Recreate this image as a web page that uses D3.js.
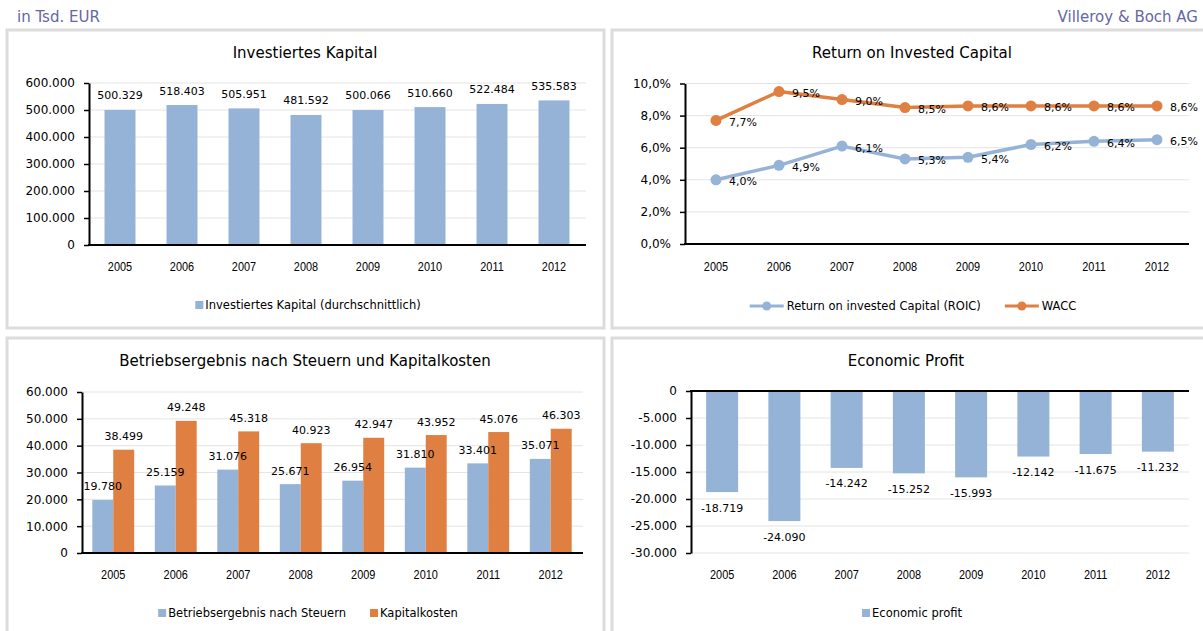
<!DOCTYPE html>
<html>
<head>
<meta charset="utf-8">
<script src="https://cdn.jsdelivr.net/npm/d3@7"></script>
<style>
  body { margin: 0; background: #fff; }
  svg { display: block; }
</style>
</head>
<body>
<svg id="chart" width="1203" height="631"></svg>
<script>
/* global d3 */
'use strict';

// --- data ---
var years = ['2005', '2006', '2007', '2008', '2009', '2010', '2011', '2012'];
var investedCapital = [500329, 518403, 505951, 481592, 500066, 510660, 522484, 535583];
var roic = [4.0, 4.9, 6.1, 5.3, 5.4, 6.2, 6.4, 6.5];
var wacc = [7.7, 9.5, 9.0, 8.5, 8.6, 8.6, 8.6, 8.6];
var nopat = [19780, 25159, 31076, 25671, 26954, 31810, 33401, 35071];
var capitalCost = [38499, 49248, 45318, 40923, 42947, 43952, 45076, 46303];
var economicProfit = [-18719, -24090, -14242, -15252, -15993, -12142, -11675, -11232];

var capitalTicks = [0, 100000, 200000, 300000, 400000, 500000, 600000];
var pctTicks = [0, 2, 4, 6, 8, 10];
var resultTicks = [0, 10000, 20000, 30000, 40000, 50000, 60000];
var profitTicks = [-30000, -25000, -20000, -15000, -10000, -5000, 0];

var blue = '#95b3d7';
var orange = '#df7f41';
var FONT = '"DejaVu Sans", Verdana, sans-serif';
var NARROW = '"Liberation Sans", Arial, sans-serif';

var de = d3.formatLocale({decimal: ',', thousands: '.', grouping: [3], currency: ['', ' €'], minus: '-'});
var fmtNum = de.format(',d');
var fmtPct = function(v) { return de.format('.1f')(v) + '%'; };

var svg = d3.select('#chart');

// header
svg.append('text').attr('x', 17).attr('y', 22)
    .attr('font-family', FONT).attr('font-size', 15).attr('fill', '#6767a3')
    .text('in Tsd. EUR');
svg.append('text').attr('x', 1198).attr('y', 22).attr('text-anchor', 'end')
    .attr('font-family', FONT).attr('font-size', 15).attr('fill', '#6767a3')
    .text('Villeroy & Boch AG');

function panel(x, y, w, h) {
    svg.append('rect')
        .attr('x', x).attr('y', y).attr('width', w).attr('height', h)
        .attr('fill', '#fff').attr('stroke', '#dcdcdc').attr('stroke-width', 3);
}

function title(text, cx, cy) {
    svg.append('text').attr('x', cx).attr('y', cy)
        .attr('text-anchor', 'middle').attr('dominant-baseline', 'central')
        .attr('font-family', FONT).attr('font-size', 15).attr('fill', '#000')
        .text(text);
}

function yAxis(y, x0, x1, ticks, fmt) {
    // gridlines
    svg.append('g').selectAll('line').data(ticks).join('line')
        .attr('x1', x0).attr('x2', x1)
        .attr('y1', function(d) { return y(d); })
        .attr('y2', function(d) { return y(d); })
        .attr('stroke', '#e4e4e4').attr('stroke-width', 1);

    var g = svg.append('g').attr('transform', 'translate(' + x0 + ',0)')
        .call(d3.axisLeft(y).tickValues(ticks).tickFormat(fmt)
            .tickSize(5).tickSizeOuter(0).tickPadding(9));
    g.attr('font-family', FONT).attr('font-size', 12);
    g.select('.domain').attr('stroke', '#000').attr('stroke-width', 2);
    g.selectAll('.tick line').attr('stroke', '#000').attr('stroke-width', 1.5);
    g.selectAll('.tick text').attr('fill', '#000');
}

function xLine(x0, x1, y) {
    svg.append('line').attr('x1', x0).attr('x2', x1).attr('y1', y).attr('y2', y)
        .attr('stroke', '#000').attr('stroke-width', 2);
}

// narrow look of the year labels: squeeze a regular sans horizontally
function yearLabels(xc, y) {
    svg.append('g').selectAll('text').data(years).join('text')
        .attr('transform', function(d) { return 'translate(' + xc(d) + ',' + y + ') scale(0.84,1)'; })
        .attr('text-anchor', 'middle').attr('dominant-baseline', 'central')
        .attr('font-family', NARROW).attr('font-size', 13).attr('fill', '#000')
        .text(function(d) { return d; });
}

function dataLabels(items, fx, fy, text, anchor) {
    svg.append('g').selectAll('text').data(items).join('text')
        .attr('x', fx).attr('y', fy)
        .attr('text-anchor', anchor || 'middle').attr('dominant-baseline', 'central')
        .attr('font-family', FONT).attr('font-size', 11).attr('fill', '#000')
        .text(text);
}

function legend(items, cx, cy) {
    var g = svg.append('g');
    var x = 0;
    items.forEach(function(it, i) {
        if (i > 0) x += 24;
        if (it.type === 'line') {
            g.append('line').attr('x1', x).attr('x2', x + 34).attr('y1', cy).attr('y2', cy)
                .attr('stroke', it.color).attr('stroke-width', 3);
            g.append('circle').attr('cx', x + 17).attr('cy', cy).attr('r', 4.5).attr('fill', it.color);
            x += 37;
        } else {
            g.append('rect').attr('x', x).attr('y', cy - 4).attr('width', 8).attr('height', 8)
                .attr('fill', it.color);
            x += 10;
        }
        var t = g.append('text').attr('x', x).attr('y', cy)
            .attr('dominant-baseline', 'central')
            .attr('font-family', FONT).attr('font-size', 11.5).attr('fill', '#000')
            .text(it.label);
        x += t.node().getComputedTextLength();
    });
    g.attr('transform', 'translate(' + (cx - x / 2) + ',0)');
}

panel(7, 30, 597, 298);
panel(612, 30, 600, 298);
panel(7, 338, 597, 310);
panel(612, 338, 600, 310);

// --- Investiertes Kapital ---
(function() {
    var x = d3.scaleBand().domain(years).range([89, 585]).paddingInner(0.5).paddingOuter(0.25);
    var y = d3.scaleLinear().domain([0, 600000]).range([245, 83]);
    title('Investiertes Kapital', 305, 53);
    yAxis(y, 89, 586, capitalTicks, fmtNum);
    svg.append('g').selectAll('rect').data(investedCapital).join('rect')
        .attr('x', function(d, i) { return x(years[i]); })
        .attr('width', x.bandwidth())
        .attr('y', function(d) { return y(d); })
        .attr('height', function(d) { return y(0) - y(d); })
        .attr('fill', blue);
    xLine(88, 586, 245);
    dataLabels(investedCapital,
        function(d, i) { return x(years[i]) + x.bandwidth() / 2; },
        function(d) { return y(d) - 14; }, fmtNum);
    yearLabels(function(d) { return x(d) + x.bandwidth() / 2; }, 267);
    legend([{type: 'rect', color: blue, label: 'Investiertes Kapital (durchschnittlich)'}], 308, 305);
})();

// --- Return on Invested Capital ---
(function() {
    var x = d3.scalePoint().domain(years).range([716, 1157]);
    var y = d3.scaleLinear().domain([0, 10]).range([244, 83.5]);
    title('Return on Invested Capital', 912, 53);
    yAxis(y, 685, 1189, pctTicks, fmtPct);
    xLine(684, 1189, 244);
    var line = d3.line()
        .x(function(d, i) { return x(years[i]); })
        .y(function(d) { return y(d); });
    [[roic, blue], [wacc, orange]].forEach(function(s) {
        svg.append('path').datum(s[0]).attr('d', line)
            .attr('fill', 'none').attr('stroke', s[1]).attr('stroke-width', 3.5)
            .attr('stroke-linejoin', 'round');
        svg.append('g').selectAll('circle').data(s[0]).join('circle')
            .attr('cx', function(d, i) { return x(years[i]); })
            .attr('cy', function(d) { return y(d); })
            .attr('r', 5.5).attr('fill', s[1]);
        dataLabels(s[0],
            function(d, i) { return x(years[i]) + 13; },
            function(d) { return y(d) + 2; }, fmtPct, 'start');
    });
    yearLabels(x, 267);
    legend([
        {type: 'line', color: blue, label: 'Return on invested Capital (ROIC)'},
        {type: 'line', color: orange, label: 'WACC'}
    ], 913, 306);
})();

// --- Betriebsergebnis nach Steuern und Kapitalkosten ---
(function() {
    var x = d3.scaleBand().domain(years).range([82, 582]).paddingInner(0.33).paddingOuter(0.165);
    var xs = d3.scaleBand().domain([0, 1]).range([0, x.bandwidth()]);
    var y = d3.scaleLinear().domain([0, 60000]).range([553, 392]);
    title('Betriebsergebnis nach Steuern und Kapitalkosten', 305, 361);
    yAxis(y, 82, 583, resultTicks, fmtNum);
    [[nopat, blue], [capitalCost, orange]].forEach(function(s, k) {
        svg.append('g').selectAll('rect').data(s[0]).join('rect')
            .attr('x', function(d, i) { return x(years[i]) + xs(k); })
            .attr('width', xs.bandwidth())
            .attr('y', function(d) { return y(d); })
            .attr('height', function(d) { return y(0) - y(d); })
            .attr('fill', s[1]);
    });
    xLine(81, 583, 553);
    [nopat, capitalCost].forEach(function(s, k) {
        dataLabels(s,
            function(d, i) { return x(years[i]) + xs(k) + xs.bandwidth() / 2; },
            function(d) { return y(d) - 13; }, fmtNum);
    });
    yearLabels(function(d) { return x(d) + x.bandwidth() / 2; }, 575);
    legend([
        {type: 'rect', color: blue, label: 'Betriebsergebnis nach Steuern'},
        {type: 'rect', color: orange, label: 'Kapitalkosten'}
    ], 308, 613);
})();

// --- Economic Profit ---
(function() {
    var x = d3.scaleBand().domain(years).range([691, 1189]).paddingInner(0.486).paddingOuter(0.243);
    var y = d3.scaleLinear().domain([-30000, 0]).range([553, 391]);
    title('Economic Profit', 906, 361);
    yAxis(y, 691, 1189, profitTicks, fmtNum);
    svg.append('g').selectAll('rect').data(economicProfit).join('rect')
        .attr('x', function(d, i) { return x(years[i]); })
        .attr('width', x.bandwidth())
        .attr('y', y(0))
        .attr('height', function(d) { return y(d) - y(0); })
        .attr('fill', blue);
    xLine(690, 1189, 391);
    dataLabels(economicProfit,
        function(d, i) { return x(years[i]) + x.bandwidth() / 2; },
        function(d) { return y(d) + 16; }, fmtNum);
    yearLabels(function(d) { return x(d) + x.bandwidth() / 2; }, 575);
    legend([{type: 'rect', color: blue, label: 'Economic profit'}], 912, 613);
})();
</script>
</body>
</html>
